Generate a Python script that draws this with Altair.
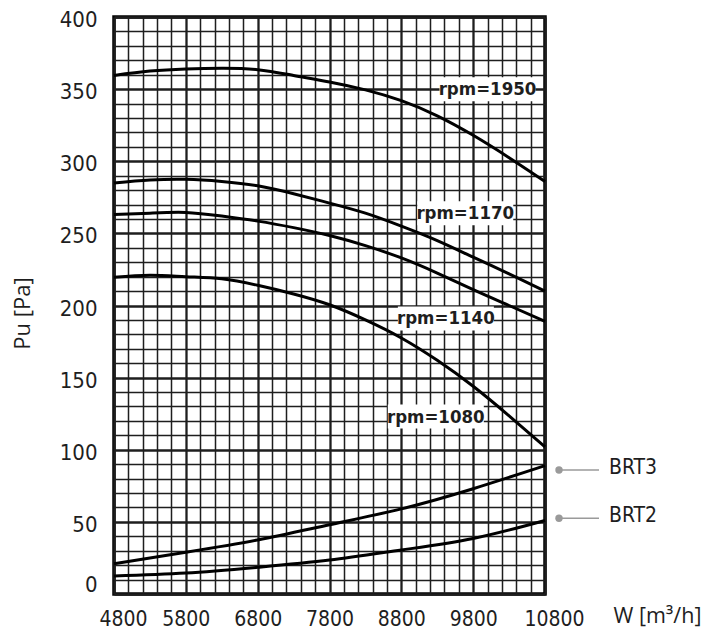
import altair as alt
import pandas as pd

# Fan curves: airflow W [m3/h] vs. available pressure Pu [Pa]
flow = [4800, 5300, 5800, 6300, 6800, 7300, 7800, 8300, 8800, 9300, 9800, 10300, 10800]
rpm_1950 = [359.5, 362.5, 364, 364.5, 363.5, 359.5, 355, 349.5, 342, 331.5, 318, 302.5, 286]
rpm_1170 = [285, 287, 287.5, 286, 283, 277.5, 271, 264, 255, 245, 233.5, 222, 210]
rpm_1140 = [263, 264, 264.5, 262, 258.5, 254, 248.5, 241.5, 233, 222.5, 211, 200, 189]
rpm_1080 = [219.5, 221, 220, 218.5, 214, 208, 200.5, 190, 177.5, 162, 144, 123.5, 102]

# System (filter) resistance curves
flow_brt = [4800, 5800, 6800, 7800, 8800, 9800, 10800]
brt3 = [21, 29, 37.5, 48, 59, 73, 89]
brt2 = [12.5, 14.5, 18.5, 23.5, 30.5, 38.5, 51]

# Speed labels and where they sit (W, Pu)
rpm_labels = ["rpm=1950", "rpm=1170", "rpm=1140", "rpm=1080"]
rpm_label_w = [10000, 9690, 9420, 9280]
rpm_label_pu = [350, 264, 191, 123]

# Filter legend entries, marked just right of the chart frame
brt_names = ["BRT3", "BRT2"]
brt_marker_pu = [86, 52.5]

x_ticks = list(range(4800, 10801, 200))
y_ticks = list(range(0, 401, 10))

curves = pd.concat(
    [pd.DataFrame({"W": flow, "Pu": v, "curve": n})
     for n, v in [("1950", rpm_1950), ("1170", rpm_1170), ("1140", rpm_1140), ("1080", rpm_1080)]]
    + [pd.DataFrame({"W": flow_brt, "Pu": v, "curve": n})
       for n, v in [("BRT3", brt3), ("BRT2", brt2)]],
    ignore_index=True,
)
labels = pd.DataFrame({"text": rpm_labels, "W": rpm_label_w, "Pu": rpm_label_pu})
brt = pd.DataFrame({"name": brt_names, "Pu": brt_marker_pu, "W": [flow_brt[-1]] * len(brt_names)})

NARROW = "DejaVu Sans Condensed, DejaVu Sans, sans-serif"
INK = "#1e1e1e"

x_scale = alt.Scale(domain=[4800, 10800], nice=False, zero=False)
y_scale = alt.Scale(domain=[0, 400], nice=False)

x_axis = alt.Axis(
    values=x_ticks,
    tickCount=200,
    labelOverlap=False,
    labelFlush=False,
    labelExpr="datum.value % 1000 == 800 ? format(datum.value, 'd') : ''",
    labelOffset={"condition": {"test": "datum.value == 4800 || datum.value == 10800", "value": 9},
                 "value": 0},
    grid=True,
    gridColor=INK,
    gridOpacity=1,
    gridWidth={"condition": {"test": "datum.value % 1000 == 800", "value": 2.3}, "value": 1.5},
    ticks=False,
    domain=False,
    labelFont=NARROW,
    labelFontSize=21,
    labelColor=INK,
    labelPadding=14,
    labelBaseline="top",
    title="W [m³/h]",
    titleFont="Open Sans",
    titleFontSize=21.5,
    titleFontWeight="normal",
    titleColor=INK,
    titleAlign="left",
    titleBaseline="alphabetic",
    titleX=499,
    titleY=28,
)
y_axis = alt.Axis(
    values=y_ticks,
    tickCount=200,
    labelOverlap=False,
    labelFlush=False,
    labelExpr="datum.value % 50 == 0 ? format(datum.value, 'd') : ''",
    labelOffset={"condition": {"test": "datum.value == 0", "value": -10}, "value": 2.5},
    grid=True,
    gridColor=INK,
    gridOpacity=1,
    gridWidth={"condition": {"test": "datum.value % 50 == 0", "value": 2.3}, "value": 1.5},
    ticks=False,
    domain=False,
    labelFont=NARROW,
    labelFontSize=22,
    labelColor=INK,
    labelPadding=17,
    title="Pu [Pa]",
    titleFont="Open Sans",
    titleFontSize=22,
    titleFontWeight="normal",
    titleColor=INK,
    titleX=-80,
    titleY=296,
)

lines = alt.Chart(curves).mark_line(color="black", strokeWidth=3, interpolate="natural").encode(
    x=alt.X("W:Q", scale=x_scale, axis=x_axis),
    y=alt.Y("Pu:Q", scale=y_scale, axis=y_axis),
    detail="curve:N",
)

# White boxes behind the speed labels
boxes = alt.Chart(labels).mark_point(
    shape="M-1,-0.25H1V0.25H-1Z", filled=True, fill="white", opacity=1, strokeWidth=0, size=9216
).encode(x=alt.X("W:Q", scale=x_scale, axis=x_axis), y=alt.Y("Pu:Q", scale=y_scale, axis=y_axis))

label_text = alt.Chart(labels).mark_text(
    font=NARROW, fontSize=18.5, fontWeight="bold", color=INK, align="center", baseline="middle"
).encode(x=alt.X("W:Q", scale=x_scale), y=alt.Y("Pu:Q", scale=y_scale), text="text:N")

brt_leader = alt.Chart(brt).mark_rule(color="#9a9a9a", strokeWidth=1.5, xOffset=14, x2Offset=54).encode(
    x=alt.X("W:Q", scale=x_scale), x2="W:Q", y=alt.Y("Pu:Q", scale=y_scale)
)
brt_dot = alt.Chart(brt).mark_circle(color="#9a9a9a", opacity=1, size=55, xOffset=14).encode(
    x=alt.X("W:Q", scale=x_scale), y=alt.Y("Pu:Q", scale=y_scale)
)
brt_text = alt.Chart(brt).mark_text(
    font=NARROW, fontSize=21, color=INK, align="left", baseline="middle", dx=64, dy=-2
).encode(x=alt.X("W:Q", scale=x_scale), y=alt.Y("Pu:Q", scale=y_scale), text="name:N")

chart = alt.layer(boxes, lines, label_text, brt_leader, brt_dot, brt_text).properties(
    width=431,
    height=577,
    autosize=alt.AutoSizeParams(type="none"),
    padding={"left": 114, "top": 17, "right": 159, "bottom": 35},
    background="white",
).configure_view(stroke="black", strokeWidth=3.5, clip=False)

chart.save("out.html", embed_options={"renderer": "svg", "actions": False})
